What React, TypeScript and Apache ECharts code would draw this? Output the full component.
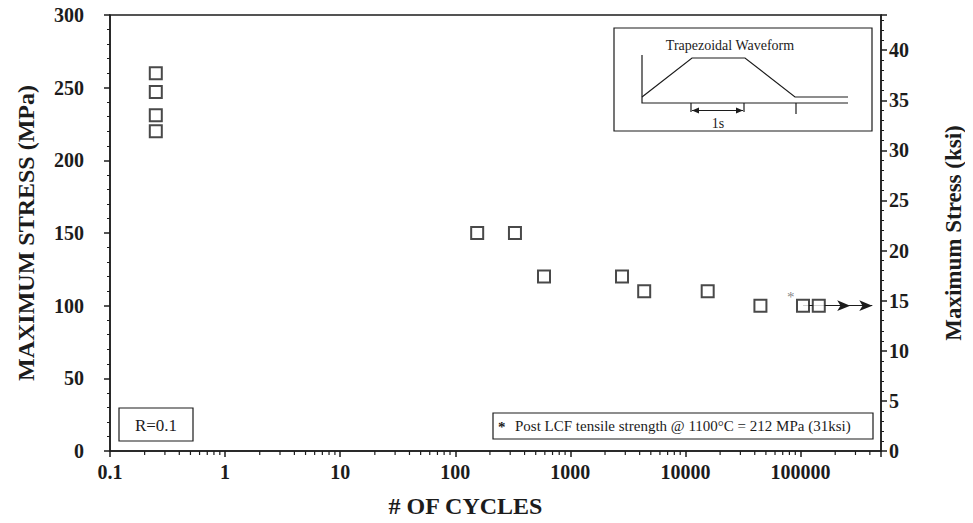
import React, { useEffect, useRef } from "react";
import * as echarts from "echarts";

// ---- data ----
const cycles = [0.25, 0.25, 0.25, 0.25, 155, 330, 590, 2810, 4380, 15600, 44800, 105000, 144000];
const stressMPa = [260, 247, 231, 220, 150, 150, 120, 120, 110, 110, 100, 100, 100];
// run-out arrows (specimens that did not fail)
const runoutFrom = [105000, 144000];
const runoutTo = [270000, 420000];
const runoutStress = [100, 100];
// asterisk marker (post LCF tensile test)
const asteriskPoint = [82000, 106];
// axis settings
const xMin = 0.1;
const xMax = 500000;
const yMaxMPa = 300;
const mpaPerKsi = 6.895;
const xDecades = [-1, 0, 1, 2, 3, 4, 5];
const minorMultipliers = [2, 3, 4, 5, 6, 7, 8, 9];

const SERIF = "'Liberation Serif', 'Times New Roman', serif";
const INK = "#1c1c1c";

export default function App() {
  const ref = useRef<HTMLDivElement>(null);
  useEffect(() => {
    if (!ref.current) return;
    const chart = echarts.init(ref.current, null, { renderer: "svg" });

    const minorTicks: number[][] = [];
    xDecades.forEach((e) => {
      minorMultipliers.forEach((m) => {
        const v = m * Math.pow(10, e);
        if (v < xMax) minorTicks.push([v, 0]);
      });
    });

    const points = cycles.map((c, i) => [c, stressMPa[i]]);
    const arrows = runoutFrom.map((f, i) => [
      { coord: [f, runoutStress[i]] },
      { coord: [runoutTo[i], runoutStress[i]] },
    ]);

    const arrowHead = (x: number, y: number, dir: number) => ({
      type: "polygon",
      shape: { points: [[x, y], [x - dir * 7, y - 3], [x - dir * 7, y + 3]] },
      style: { fill: INK },
    });

    chart.setOption({
      animation: false,
      backgroundColor: "#ffffff",
      grid: {
        left: 110,
        right: 81,
        top: 15,
        bottom: 71,
        show: true,
        borderColor: INK,
        borderWidth: 1.5,
      },
      xAxis: {
        type: "log",
        min: xMin,
        max: xMax,
        logBase: 10,
        name: "# OF CYCLES",
        nameLocation: "middle",
        nameGap: 43,
        nameTextStyle: {
          fontFamily: SERIF,
          fontWeight: "bold",
          fontSize: 24,
          color: INK,
          padding: [0, 60, 0, 0],
        },
        axisLine: { lineStyle: { color: INK, width: 1.5 } },
        axisTick: { show: true, length: 6, lineStyle: { color: INK, width: 1.5 } },
        minorTick: { show: false },
        splitLine: { show: false },
        axisLabel: {
          margin: 11,
          fontFamily: SERIF,
          fontWeight: "bold",
          fontSize: 20,
          color: INK,
          formatter: (v: number) => {
            const e = Math.log10(v);
            if (Math.abs(e - Math.round(e)) > 1e-6) return "";
            return v < 1 ? "0.1" : String(Math.round(v));
          },
        },
      },
      yAxis: [
        {
          type: "value",
          min: 0,
          max: yMaxMPa,
          interval: 50,
          name: "MAXIMUM STRESS (MPa)",
          nameLocation: "middle",
          nameRotate: 90,
          nameGap: 72,
          nameTextStyle: { fontFamily: SERIF, fontWeight: "bold", fontSize: 24, color: INK },
          axisLine: { show: true, lineStyle: { color: INK, width: 1.5 } },
          axisTick: { show: true, length: 6, lineStyle: { color: INK, width: 1.5 } },
          minorTick: { show: true, splitNumber: 5, length: 3, lineStyle: { color: INK, width: 1 } },
          splitLine: { show: false },
          axisLabel: {
            margin: 26,
            fontFamily: SERIF,
            fontWeight: "bold",
            fontSize: 20,
            color: INK,
          },
        },
        {
          type: "value",
          position: "right",
          min: 0,
          max: yMaxMPa / mpaPerKsi,
          interval: 5,
          name: "Maximum Stress (ksi)",
          nameLocation: "middle",
          nameRotate: 90,
          nameGap: 61,
          nameTextStyle: { fontFamily: SERIF, fontWeight: "bold", fontSize: 23, color: INK },
          axisLine: { show: true, lineStyle: { color: INK, width: 1.5 } },
          axisTick: { show: true, length: 6, lineStyle: { color: INK, width: 1.5 } },
          minorTick: { show: true, splitNumber: 5, length: 3, lineStyle: { color: INK, width: 1 } },
          splitLine: { show: false },
          axisLabel: {
            margin: 8,
            fontFamily: SERIF,
            fontWeight: "bold",
            fontSize: 20,
            color: INK,
            formatter: (v: number) =>
              Math.abs(v / 5 - Math.round(v / 5)) < 1e-6 ? String(Math.round(v)) : "",
          },
        },
      ],
      series: [
        {
          type: "scatter",
          name: "data",
          data: points,
          symbol: "rect",
          symbolSize: 12,
          itemStyle: { color: "#ffffff", borderColor: INK, borderWidth: 2 },
          markLine: {
            silent: true,
            symbol: ["none", "arrow"],
            symbolSize: [8, 13],
            label: { show: false },
            lineStyle: { color: INK, width: 1.2, type: "solid" },
            data: arrows,
          },
          z: 5,
        },
        {
          type: "scatter",
          name: "asterisk",
          data: [asteriskPoint],
          symbolSize: 1,
          itemStyle: { color: "rgba(0,0,0,0)" },
          label: {
            show: true,
            position: "inside",
            formatter: "*",
            fontFamily: SERIF,
            fontSize: 15,
            color: "#666",
          },
        },
        {
          type: "custom",
          name: "minorTicks",
          data: minorTicks,
          silent: true,
          clip: false,
          encode: { x: 0, y: 1 },
          renderItem: (params: any, api: any) => {
            const p = api.coord([api.value(0), 0]);
            return {
              type: "line",
              shape: { x1: p[0], y1: p[1], x2: p[0], y2: p[1] + 4 },
              style: { stroke: INK, lineWidth: 1.2 },
            };
          },
        },
      ],
      graphic: [
        // inset waveform box
        {
          type: "rect",
          shape: { x: 614, y: 28, width: 258, height: 103 },
          style: { fill: "#ffffff", stroke: INK, lineWidth: 1.2 },
          z: 10,
        },
        {
          type: "text",
          x: 730,
          y: 45,
          style: {
            text: "Trapezoidal Waveform",
            fontFamily: SERIF,
            fontSize: 14,
            fill: INK,
            align: "center",
            verticalAlign: "middle",
          },
          z: 11,
        },
        {
          type: "polyline",
          shape: { points: [[642, 55], [642, 103], [848, 103]] },
          style: { stroke: INK, lineWidth: 1.2, fill: "none" },
          z: 11,
        },
        {
          type: "polyline",
          shape: { points: [[642, 97], [692, 58], [745, 58], [795, 97], [848, 97]] },
          style: { stroke: INK, lineWidth: 1.2, fill: "none" },
          z: 11,
        },
        {
          type: "line",
          shape: { x1: 796, y1: 103, x2: 796, y2: 114 },
          style: { stroke: INK, lineWidth: 1.2 },
          z: 11,
        },
        {
          type: "line",
          shape: { x1: 691, y1: 103, x2: 691, y2: 112 },
          style: { stroke: INK, lineWidth: 1.2 },
          z: 11,
        },
        {
          type: "line",
          shape: { x1: 744, y1: 103, x2: 744, y2: 112 },
          style: { stroke: INK, lineWidth: 1.2 },
          z: 11,
        },
        {
          type: "line",
          shape: { x1: 692, y1: 110.5, x2: 743, y2: 110.5 },
          style: { stroke: INK, lineWidth: 1.2 },
          z: 11,
        },
        { ...arrowHead(692, 110.5, -1), z: 11 },
        { ...arrowHead(743, 110.5, 1), z: 11 },
        {
          type: "text",
          x: 718,
          y: 123,
          style: {
            text: "1s",
            fontFamily: SERIF,
            fontSize: 14,
            fill: INK,
            align: "center",
            verticalAlign: "middle",
          },
          z: 11,
        },
        // R=0.1 box
        {
          type: "rect",
          shape: { x: 119, y: 408, width: 74, height: 33 },
          style: { fill: "#ffffff", stroke: INK, lineWidth: 1.2 },
          z: 10,
        },
        {
          type: "text",
          x: 156,
          y: 425,
          style: {
            text: "R=0.1",
            fontFamily: SERIF,
            fontSize: 17,
            fill: INK,
            align: "center",
            verticalAlign: "middle",
          },
          z: 11,
        },
        // note box
        {
          type: "rect",
          shape: { x: 493, y: 413, width: 380, height: 26 },
          style: { fill: "#ffffff", stroke: INK, lineWidth: 1.2 },
          z: 10,
        },
        {
          type: "text",
          x: 498,
          y: 427,
          style: {
            text: "*",
            fontFamily: SERIF,
            fontSize: 15,
            fontWeight: "bold",
            fill: INK,
            align: "left",
            verticalAlign: "middle",
          },
          z: 11,
        },
        {
          type: "text",
          x: 515,
          y: 426,
          style: {
            text: "Post LCF tensile strength @ 1100°C = 212 MPa (31ksi)",
            fontFamily: SERIF,
            fontSize: 15,
            fill: INK,
            align: "left",
            verticalAlign: "middle",
          },
          z: 11,
        },
      ],
    });
    return () => chart.dispose();
  }, []);

  return <div ref={ref} style={{ width: 973, height: 523, margin: -8 }} />;
}
